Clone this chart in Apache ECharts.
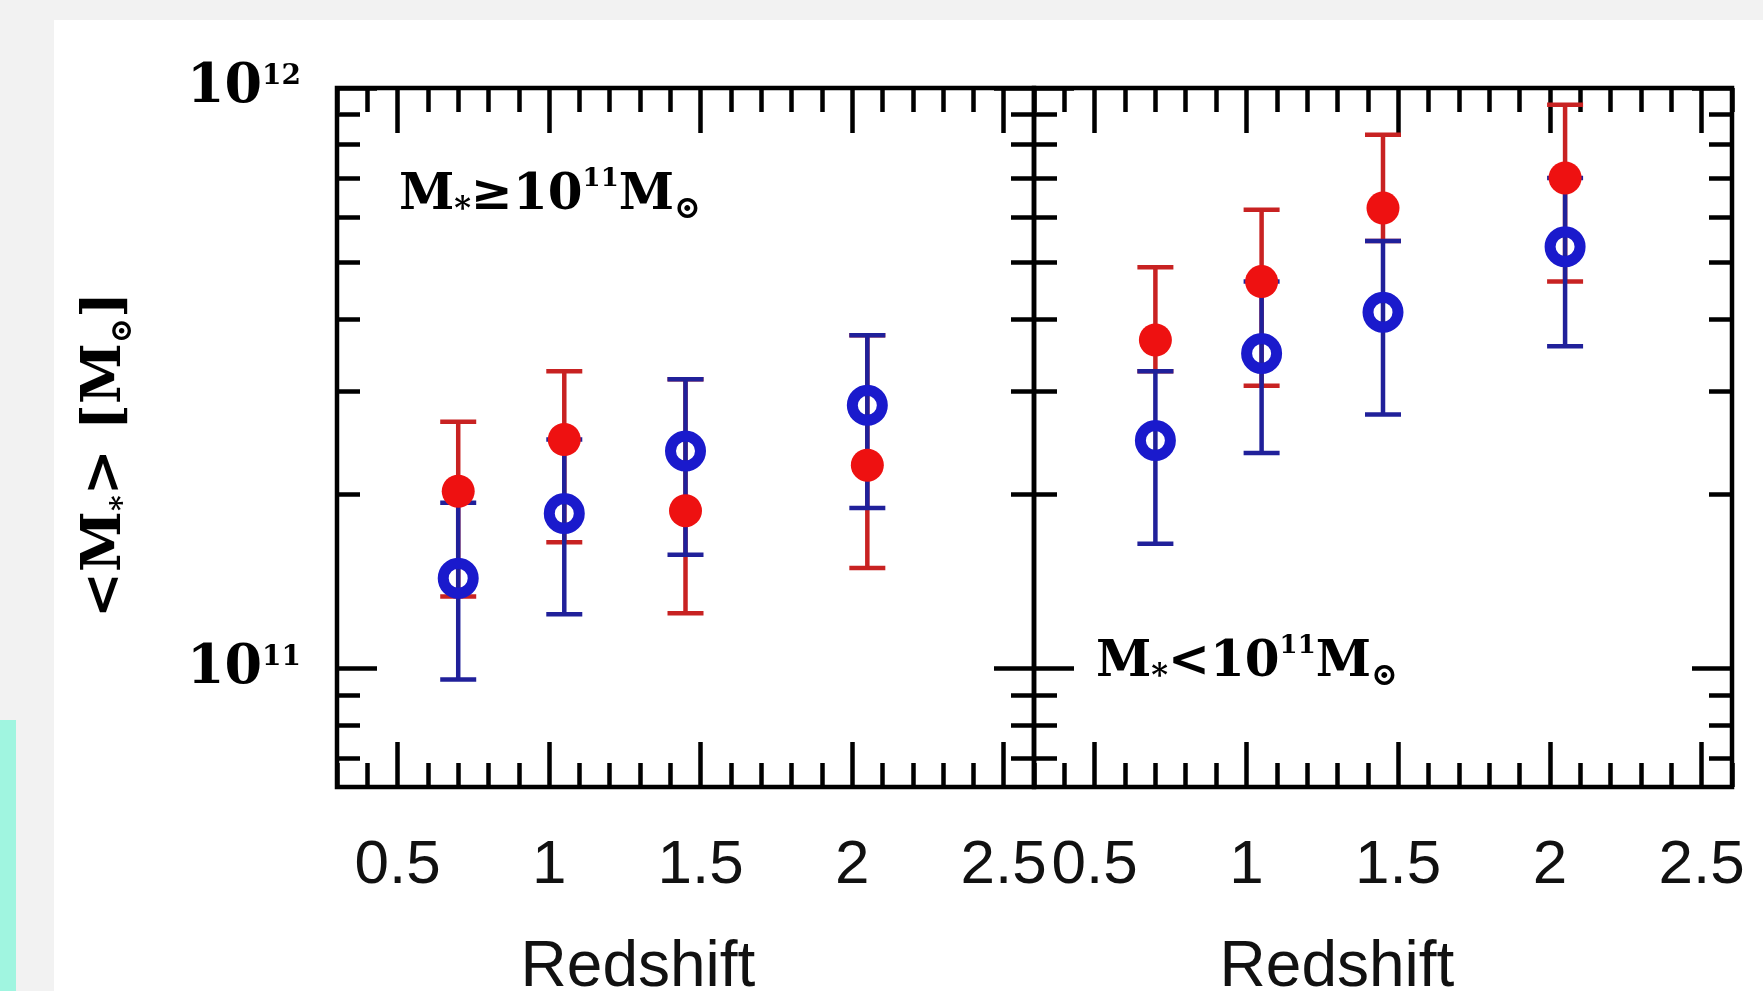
<!DOCTYPE html>
<html>
<head>
<meta charset="utf-8">
<title>Halo mass vs redshift</title>
<script src="https://cdn.jsdelivr.net/npm/echarts@6.0.0/dist/echarts.min.js"></script>
<style>
  html, body { margin: 0; padding: 0; background: #f2f2f2; overflow: hidden; }
  #paper { position: absolute; left: 54px; top: 20px; right: 0; bottom: 0; background: #fff; }
  #strip { position: absolute; left: 0; top: 720px; width: 16px; bottom: 0; background: #a0f5e0; }
  #main { position: absolute; left: 0; top: 0; width: 1763px; height: 991px; }
</style>
</head>
<body>
<div id="paper"></div>
<div id="strip"></div>
<div id="main"></div>
<script>
// redshift bins, same in both panels
var redshift = [0.7, 1.05, 1.45, 2.05];

// left panel, M* >= 1e11
var hiRedMid = [2.02e11, 2.48e11, 1.87e11, 2.24e11];
var hiRedLow = [1.33e11, 1.65e11, 1.245e11, 1.49e11];
var hiRedHigh = [2.66e11, 3.25e11, 3.15e11, 3.75e11];
var hiBlueMid = [1.43e11, 1.85e11, 2.37e11, 2.84e11];
var hiBlueLow = [0.957e11, 1.24e11, 1.57e11, 1.89e11];
var hiBlueHigh = [1.93e11, 2.48e11, 3.15e11, 3.75e11];

// right panel, M* < 1e11
var loRedMid = [3.68e11, 4.64e11, 6.21e11, 7.0e11];
var loRedLow = [3.25e11, 3.07e11, 5.45e11, 4.64e11];
var loRedHigh = [4.91e11, 6.17e11, 8.31e11, 9.36e11];
var loBlueMid = [2.47e11, 3.49e11, 4.11e11, 5.33e11];
var loBlueLow = [1.64e11, 2.35e11, 2.74e11, 3.59e11];
var loBlueHigh = [3.25e11, 4.64e11, 5.45e11, 7.0e11];

// tick values
var xMajorTicks = [0.5, 1, 1.5, 2, 2.5];
var xMinorTicks = [0.3, 0.4, 0.6, 0.7, 0.8, 0.9, 1.1, 1.2, 1.3, 1.4, 1.6, 1.7, 1.8, 1.9, 2.1, 2.2, 2.3, 2.4, 2.6];
var yMajorTicks = [1e11, 1e12];
var yMinorTicks = [7e10, 8e10, 9e10, 2e11, 3e11, 4e11, 5e11, 6e11, 7e11, 8e11, 9e11];

var chart = echarts.init(document.getElementById('main'), null, { renderer: 'canvas' });

var serif = 'DejaVu Serif';
var tickStyle = { color: '#000', width: 4.5 };

function xAx(grid, pos, ticks, len, labels) {
  return {
    type: 'value', gridIndex: grid, position: pos, min: 0.3, max: 2.6,
    axisLine: { show: false, onZero: false },
    splitLine: { show: false },
    axisTick: { show: true, inside: true, length: len, customValues: ticks, lineStyle: tickStyle },
    axisLabel: labels ? {
      show: true, customValues: ticks, margin: 48,
      fontFamily: 'Liberation Sans', fontSize: 62, color: '#111',
      formatter: function (v) { return String(v); }
    } : { show: false }
  };
}

function yAx(grid, pos, ticks, len, labels) {
  return {
    type: 'log', logBase: 10, gridIndex: grid, position: pos, min: 6.25e10, max: 1e12,
    axisLine: { show: false, onZero: false },
    splitLine: { show: false },
    axisTick: { show: true, inside: true, length: len, customValues: ticks, lineStyle: tickStyle },
    axisLabel: labels ? {
      show: true, customValues: ticks, margin: 36,
      formatter: function (v) { return '{b|10}{s|' + Math.round(Math.log10(v)) + '}'; },
      rich: {
        b: { fontFamily: serif, fontWeight: 'bold', fontSize: 54, color: '#000', lineHeight: 50 },
        s: { fontFamily: serif, fontWeight: 'bold', fontSize: 28, color: '#000', verticalAlign: 'top', lineHeight: 26 }
      }
    } : { show: false }
  };
}

// error bars: vertical line with caps
function errSeries(ax, lo, hi, color) {
  return {
    type: 'custom', xAxisIndex: ax, yAxisIndex: ax, silent: true, clip: false,
    data: redshift.map(function (z, i) { return [z, lo[i], hi[i]]; }),
    renderItem: function (params, api) {
      var top = api.coord([api.value(0), api.value(2)]);
      var bot = api.coord([api.value(0), api.value(1)]);
      var w = 18;
      var st = { stroke: color, lineWidth: 4.5 };
      return {
        type: 'group',
        children: [
          { type: 'line', shape: { x1: top[0], y1: top[1], x2: bot[0], y2: bot[1] }, style: st },
          { type: 'line', shape: { x1: top[0] - w, y1: top[1], x2: top[0] + w, y2: top[1] }, style: st },
          { type: 'line', shape: { x1: bot[0] - w, y1: bot[1], x2: bot[0] + w, y2: bot[1] }, style: st }
        ]
      };
    }
  };
}

function redDots(ax, mid) {
  return {
    type: 'scatter', xAxisIndex: ax, yAxisIndex: ax, silent: true,
    data: redshift.map(function (z, i) { return [z, mid[i]]; }),
    symbol: 'circle', symbolSize: 33,
    itemStyle: { color: '#ee1111', opacity: 1 }
  };
}

function blueRings(ax, mid) {
  return {
    type: 'scatter', xAxisIndex: ax, yAxisIndex: ax, silent: true,
    data: redshift.map(function (z, i) { return [z, mid[i]]; }),
    symbol: 'circle', symbolSize: 30,
    itemStyle: { color: 'rgba(255,255,255,0)', borderColor: '#1a1acc', borderWidth: 11, opacity: 1 }
  };
}

var xAxes = [], yAxes = [];
[0, 1].forEach(function (g) {
  // first of each four (bottom / left) carries the series
  xAxes.push(xAx(g, 'bottom', xMajorTicks, 45, true));
  xAxes.push(xAx(g, 'bottom', xMinorTicks, 24, false));
  xAxes.push(xAx(g, 'top', xMajorTicks, 45, false));
  xAxes.push(xAx(g, 'top', xMinorTicks, 24, false));
  yAxes.push(yAx(g, 'left', yMajorTicks, 40, g === 0));
  yAxes.push(yAx(g, 'left', yMinorTicks, 23, false));
  yAxes.push(yAx(g, 'right', yMajorTicks, 40, false));
  yAxes.push(yAx(g, 'right', yMinorTicks, 23, false));
});

var noteRich = {
  m: { fontFamily: serif, fontWeight: 'bold', fontSize: 50, color: '#000', lineHeight: 60 },
  sup: { fontFamily: serif, fontWeight: 'bold', fontSize: 26, color: '#000', verticalAlign: 'top', lineHeight: 26 },
  sub: { fontFamily: serif, fontWeight: 'bold', fontSize: 32, color: '#000', verticalAlign: 'bottom', lineHeight: 30 }
};

var option = {
  animation: false,
  backgroundColor: 'transparent',
  grid: [
    { left: 337, top: 88, width: 697, height: 699, show: true, borderColor: '#000', borderWidth: 4.5, backgroundColor: 'transparent', outerBoundsMode: 'none' },
    { left: 1034, top: 88, width: 698, height: 699, show: true, borderColor: '#000', borderWidth: 4.5, backgroundColor: 'transparent', outerBoundsMode: 'none' }
  ],
  xAxis: xAxes,
  yAxis: yAxes,
  graphic: [
    { type: 'text', x: 106, y: 455, rotation: Math.PI / 2, z: 10,
      style: { text: '{t|<M}{s|*}{t|> [M}{s|⊙}{t|]}', align: 'center', verticalAlign: 'middle',
        rich: {
          t: { fontFamily: serif, fontWeight: 'bold', fontSize: 55, color: '#000', lineHeight: 64 },
          s: { fontFamily: serif, fontWeight: 'bold', fontSize: 30, color: '#000', verticalAlign: 'bottom', lineHeight: 30 }
        } } },
    { type: 'text', x: 399, y: 196, z: 10,
      style: { text: '{m|M}{sub|*}{m|≥10}{sup|11}{m|M}{sub|⊙}', align: 'left', verticalAlign: 'middle', rich: noteRich } },
    { type: 'text', x: 1096, y: 663, z: 10,
      style: { text: '{m|M}{sub|*}{m|<10}{sup|11}{m|M}{sub|⊙}', align: 'left', verticalAlign: 'middle', rich: noteRich } },
    { type: 'text', x: 638, y: 1000, z: 10,
      style: { text: 'Redshift', align: 'center', verticalAlign: 'bottom', fontFamily: 'Liberation Sans', fontSize: 64, fill: '#111' } },
    { type: 'text', x: 1337, y: 1000, z: 10,
      style: { text: 'Redshift', align: 'center', verticalAlign: 'bottom', fontFamily: 'Liberation Sans', fontSize: 64, fill: '#111' } }
  ],
  series: [
    errSeries(0, hiRedLow, hiRedHigh, '#c82222'),
    redDots(0, hiRedMid),
    errSeries(0, hiBlueLow, hiBlueHigh, '#20209a'),
    blueRings(0, hiBlueMid),
    errSeries(4, loRedLow, loRedHigh, '#c82222'),
    redDots(4, loRedMid),
    errSeries(4, loBlueLow, loBlueHigh, '#20209a'),
    blueRings(4, loBlueMid)
  ]
};

chart.setOption(option);
</script>
</body>
</html>
